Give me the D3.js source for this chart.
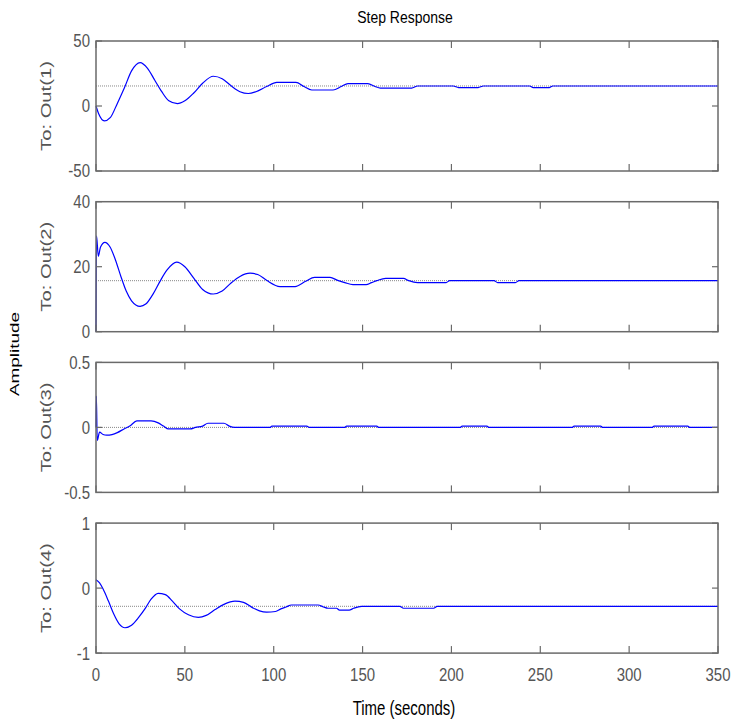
<!DOCTYPE html>
<html>
<head>
<meta charset="utf-8">
<script src="https://cdn.jsdelivr.net/npm/d3@7"></script>
<style>
  body { margin: 0; background: #fff; }
  svg text { font-family: "Liberation Sans", Arial, sans-serif; }
</style>
</head>
<body>
<svg id="chart"></svg>
<script>
// time grid / ticks
const xTicks = [0, 50, 100, 150, 200, 250, 300, 350];
const outNames = ["To: Out(1)", "To: Out(2)", "To: Out(3)", "To: Out(4)"];
const yDomains = [[-50, 50], [0, 40], [-0.5, 0.5], [-1, 1]];
const yTickVals = [[-50, 0, 50], [0, 20, 40], [-0.5, 0, 0.5], [-1, 0, 1]];
const finals = [15.4, 15.7, 0, -0.28];

// Out(1)
const t1 = [0, 1.5, 4.7, 8, 12, 16, 20, 24.8, 29, 33, 37, 41, 45.8, 50, 55, 60, 66, 71, 76, 81, 85.7, 90, 96, 101.7, 112.5, 117, 121.4, 133.4, 138, 141.8, 153, 157, 160, 177.6, 181, 201, 204, 215, 218, 244, 246, 255, 257, 350];
const y1 = [0, -6, -11.5, -9, 2, 14, 27, 33.4, 29, 20, 11, 4, 1.8, 4, 10, 17.5, 22.9, 21, 15.5, 11, 9.6, 11, 15, 18.2, 18.2, 15, 12.3, 12.3, 15, 17.2, 17.2, 15, 13.8, 13.8, 15.4, 15.4, 14.2, 14.2, 15.4, 15.4, 14.2, 14.2, 15.4, 15.4];

// Out(2)
const t2 = [0, 0.3, 1.3, 2.5, 5, 8, 11, 14, 17, 20, 24.8, 28, 32, 36, 40, 45.4, 50, 55, 60, 66, 71, 76, 81, 86.7, 91, 96, 103.5, 112, 118, 123, 131.7, 136, 140, 144.6, 152, 155, 158, 163, 173, 176, 181, 197, 199, 224, 226, 236, 238, 350];
const y2 = [0, 29.5, 23.2, 26, 27.5, 26, 22, 17, 12.5, 9.5, 7.8, 8.5, 11.5, 15.5, 19, 21.4, 20, 16.5, 13, 11.6, 12.5, 15, 17, 18, 17.6, 15.8, 13.9, 13.9, 15.5, 16.7, 16.7, 15.8, 15.1, 14.5, 14.5, 15.1, 15.7, 16.4, 16.4, 15.7, 15.1, 15.1, 15.7, 15.7, 15.1, 15.1, 15.7, 15.7];

// Out(3)
const t3 = [0, 0.2, 0.7, 2, 4, 6, 9, 12, 16, 19, 23, 31, 35, 38, 40.7, 53, 56, 60, 63, 72, 75, 78, 98, 99, 118.6, 120, 140, 141, 158, 159, 205, 206, 220, 221, 268, 269, 284, 285, 313, 314, 333, 334, 350];
const y3 = [0, 0.24, -0.1, -0.037, -0.055, -0.06, -0.055, -0.04, -0.01, 0.01, 0.05, 0.05, 0.035, 0.01, -0.012, -0.012, 0, 0.01, 0.032, 0.032, 0.01, 0, 0, 0.01, 0.01, 0, 0, 0.01, 0.01, 0, 0, 0.01, 0.01, 0, 0, 0.01, 0.01, 0, 0, 0.01, 0.01, 0, 0];

// Out(4)
const t4 = [0, 2, 4, 7, 10, 13, 16.3, 20, 24, 28, 31, 35, 39, 43, 47, 52, 57.6, 62, 67, 72, 78.2, 83, 88, 92, 96, 101, 104, 107, 110, 125, 128, 130.5, 135.4, 137, 142.4, 145, 149.5, 171, 173, 190, 192, 350];
const y4 = [0.13, 0.08, -0.015, -0.2, -0.4, -0.55, -0.61, -0.57, -0.45, -0.3, -0.17, -0.08, -0.1, -0.2, -0.32, -0.41, -0.45, -0.42, -0.33, -0.25, -0.2, -0.22, -0.3, -0.35, -0.37, -0.36, -0.32, -0.29, -0.26, -0.26, -0.29, -0.31, -0.31, -0.34, -0.34, -0.31, -0.28, -0.28, -0.31, -0.31, -0.28, -0.28];

const series = [[t1, y1], [t2, y2], [t3, y3], [t4, y4]];

const width = 733, height = 724;
const left = 96, right = 718;
const top0 = 41, step = 160.7, ph = 130;
const axisColor = "#6a6a6a", labelColor = "#555";

const svg = d3.select("#chart").attr("width", width).attr("height", height);

const x = d3.scaleLinear().domain([0, 350]).range([left, right]);

series.forEach(function (s, i) {
  const top = top0 + i * step;
  const y = d3.scaleLinear().domain(yDomains[i]).range([top + ph, top]);
  const g = svg.append("g");

  // steady-state dotted line
  g.append("line")
    .attr("x1", left).attr("x2", right)
    .attr("y1", y(finals[i])).attr("y2", y(finals[i]))
    .attr("stroke", "#888").attr("stroke-width", 1)
    .attr("stroke-dasharray", "1,1");

  const pts = s[0].map((t, k) => [t, s[1][k]]);
  const line = d3.line()
    .x(d => x(d[0]))
    .y(d => y(d[1]))
    .curve(d3.curveMonotoneX);

  g.append("path")
    .attr("d", line(pts))
    .attr("fill", "none")
    .attr("stroke", "#0000ff")
    .attr("stroke-width", 1.2);

  // box
  g.append("rect")
    .attr("x", left).attr("y", top)
    .attr("width", right - left).attr("height", ph)
    .attr("fill", "none").attr("stroke", axisColor).attr("stroke-width", 1.5);

  // x ticks (inward, top and bottom)
  xTicks.forEach(function (v) {
    g.append("line").attr("x1", x(v)).attr("x2", x(v))
      .attr("y1", top).attr("y2", top + 7)
      .attr("stroke", axisColor).attr("stroke-width", 1.2);
    g.append("line").attr("x1", x(v)).attr("x2", x(v))
      .attr("y1", top + ph).attr("y2", top + ph - 7)
      .attr("stroke", axisColor).attr("stroke-width", 1.2);
  });

  // y ticks (inward, left and right) + labels
  yTickVals[i].forEach(function (v) {
    g.append("line").attr("x1", left).attr("x2", left + 6)
      .attr("y1", y(v)).attr("y2", y(v))
      .attr("stroke", axisColor).attr("stroke-width", 1.2);
    g.append("line").attr("x1", right).attr("x2", right - 6)
      .attr("y1", y(v)).attr("y2", y(v))
      .attr("stroke", axisColor).attr("stroke-width", 1.2);
    g.append("text")
      .attr("transform", `translate(${left - 6},${y(v)}) scale(1,1.2)`)
      .attr("dy", "0.36em")
      .attr("text-anchor", "end")
      .attr("font-size", 15)
      .attr("fill", labelColor)
      .text(v);
  });

  // output label
  g.append("text")
    .attr("transform", `translate(51,${top + ph / 2}) rotate(-90) scale(1.35,1)`)
    .attr("text-anchor", "middle")
    .attr("font-size", 15)
    .attr("fill", labelColor)
    .text(outNames[i]);
});

// x tick labels under last panel
xTicks.forEach(function (v) {
  svg.append("text")
    .attr("transform", `translate(${x(v)},681) scale(1,1.2)`)
    .attr("text-anchor", "middle")
    .attr("font-size", 15)
    .attr("fill", labelColor)
    .text(v);
});

svg.append("text")
  .attr("transform", "translate(405,23) scale(1,1.2)")
  .attr("text-anchor", "middle")
  .attr("font-size", 14)
  .attr("fill", "#000")
  .text("Step Response");

svg.append("text")
  .attr("transform", "translate(404,715) scale(1,1.3)")
  .attr("text-anchor", "middle")
  .attr("font-size", 15)
  .attr("fill", "#000")
  .text("Time (seconds)");

svg.append("text")
  .attr("transform", "translate(19,354) rotate(-90) scale(1.4,1)")
  .attr("text-anchor", "middle")
  .attr("font-size", 13.5)
  .attr("fill", "#000")
  .text("Amplitude");
</script>
</body>
</html>
